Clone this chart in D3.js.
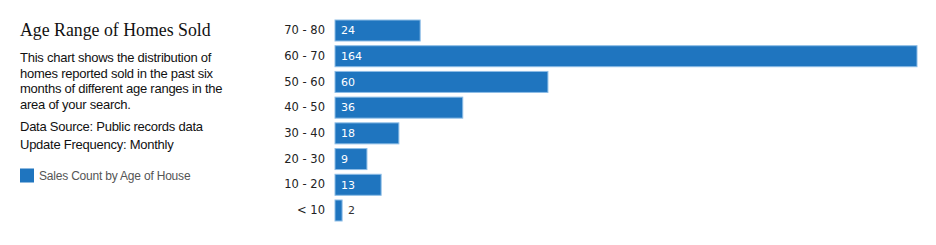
<!DOCTYPE html>
<html><head><meta charset="utf-8">
<script src="https://cdn.jsdelivr.net/npm/d3@7"></script>
<style>body{margin:0;background:#fff}svg{display:block}</style>
</head><body><svg id="c" width="936" height="245"></svg>
<script>
const categories = ["70 - 80","60 - 70","50 - 60","40 - 50","30 - 40","20 - 30","10 - 20","< 10"];
const values = [24,164,60,36,18,9,13,2];
const seriesName = "Sales Count by Age of House";
const title = "Age Range of Homes Sold";
const descLines = ["This chart shows the distribution of","homes reported sold in the past six","months of different age ranges in the","area of your search."];
const infoLines = ["Data Source: Public records data","Update Frequency: Monthly"];

const svg = d3.select("#c");
const x = d3.scaleLinear().domain([0, d3.max(values)]).range([335, 917]);
const y = d3.scaleBand().domain(categories).range([17.65, 223.35]).paddingInner(0.183).paddingOuter(0.0915);

svg.append("text").attr("x",20).attr("y",36).attr("font-family","Liberation Serif, serif").attr("font-size",17.8).attr("fill","#111").text(title);
const body = svg.append("g").attr("font-family","Liberation Sans, Arial, sans-serif").attr("font-size",13).attr("fill","#111").attr("letter-spacing","-0.25");
descLines.forEach((t,i)=> body.append("text").attr("x",20).attr("y",62+i*15.5).text(t));
infoLines.forEach((t,i)=> body.append("text").attr("x",20).attr("y",131+i*18).text(t));

svg.append("rect").attr("x",20).attr("y",168.5).attr("width",14).attr("height",14).attr("fill","#1f75bf");
svg.append("text").attr("x",39).attr("y",180).attr("font-family","Liberation Sans, Arial, sans-serif").attr("font-size",12).attr("fill","#555").attr("letter-spacing","-0.2").text(seriesName);

const yAxis = d3.axisLeft(y).tickSize(0).tickPadding(0);
const ag = svg.append("g").attr("transform","translate(325,0)").call(yAxis);
ag.select(".domain").remove();
ag.selectAll("text").attr("font-family","DejaVu Sans, Verdana, sans-serif").attr("font-size",11.5).attr("fill","#222");

svg.append("g").selectAll("rect").data(values).join("rect")
  .attr("x", x(0)).attr("y",(d,i)=>y(categories[i]))
  .attr("width", d=>x(d)-x(0)).attr("height", y.bandwidth())
  .attr("fill","#1f75bf").attr("stroke","#8dbde6").attr("stroke-width",1);

svg.append("g").selectAll("text").data(values).join("text")
  .attr("x",(d)=> (x(d)-x(0) > 20 ? x(0)+6 : x(d)+6))
  .attr("y",(d,i)=>y(categories[i])+y.bandwidth()/2)
  .attr("dy","0.35em")
  .attr("font-family","DejaVu Sans, Verdana, sans-serif").attr("font-size",11)
  .attr("fill",(d)=> (x(d)-x(0) > 20 ? "#fff" : "#333"))
  .text(d=>d);
</script></body></html>
